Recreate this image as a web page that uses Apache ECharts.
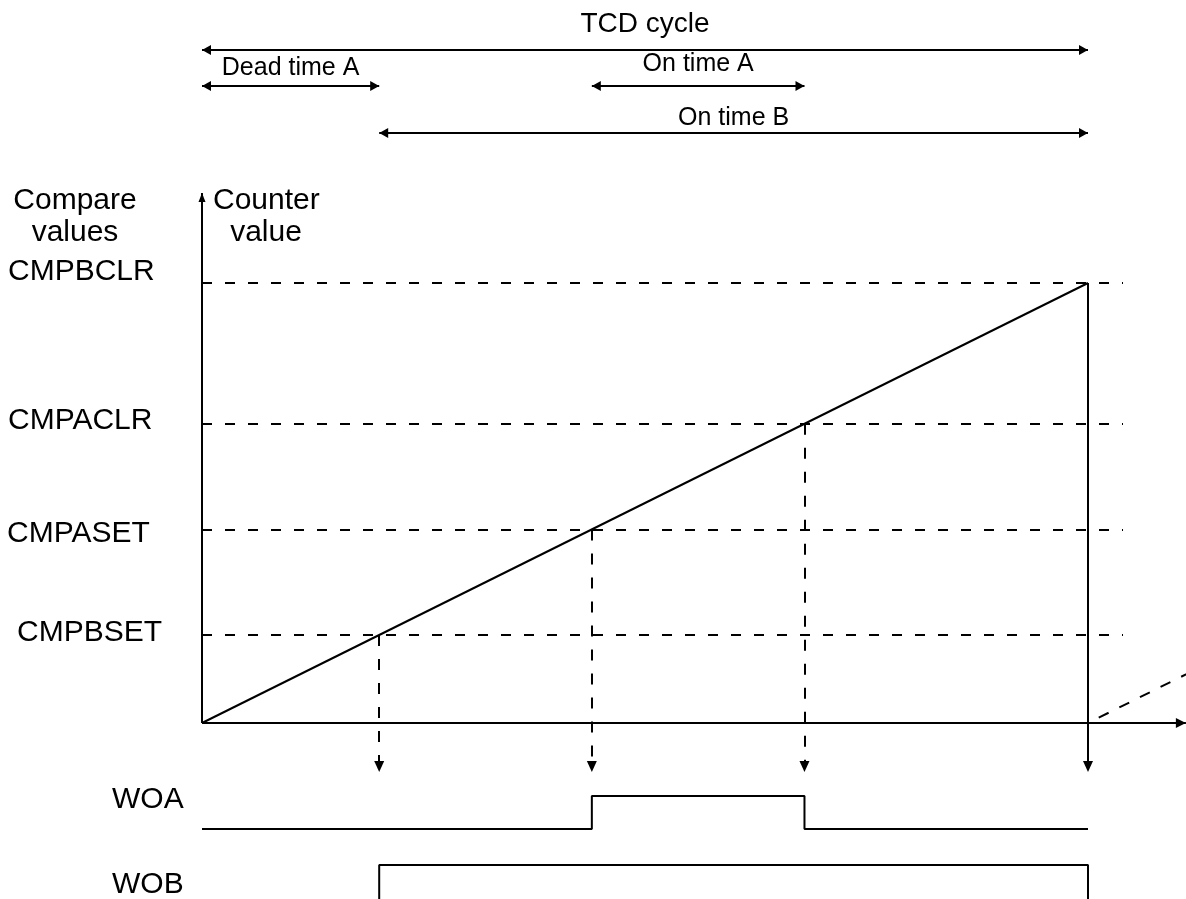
<!DOCTYPE html>
<html>
<head>
<meta charset="utf-8">
<title>TCD cycle</title>
<script src="https://cdn.jsdelivr.net/npm/echarts@6/dist/echarts.min.js"></script>
<style>
  html, body { margin: 0; padding: 0; background: #fff; }
  #chart { width: 1186px; height: 899px; }
</style>
</head>
<body>
<div id="chart"></div>
<script>
// values (time and counter in % of one TCD cycle)
const compareNames = ['CMPBSET', 'CMPASET', 'CMPACLR', 'CMPBCLR'];
const compareValues = [20, 44, 68, 100];

const counterTimes = [0, 100];
const counterValues = [0, 100];
const nextCounterTimes = [100, 112];
const nextCounterValues = [0, 12];

const woaTimes = [0, 44, 68, 100];
const woaLevels = [0, 1, 0, 0];
const wobTimes = [0, 20, 100];
const wobLevels = [0, 1, 0];

const spanNames = ['TCD cycle', 'Dead time A', 'On time A', 'On time B'];
const spanStarts = [0, 0, 44, 20];
const spanEnds = [100, 20, 68, 100];

// layout (pixels)
const W = 1186, H = 899;
const T0_PX = 202, T100_PX = 1088;   // start / end of the cycle
const C0_PX = 723, C100_PX = 283;    // counter 0 / 100
const FONT = "'Liberation Sans', Arial, sans-serif";
const black = '#000';

// axis range so that v0 lands on pixel p0 and v1 on p1
function fitAxis(v0, p0, v1, p1, size, vertical) {
  const k = (v1 - v0) / (p1 - p0);
  const at = p => v0 + (p - p0) * k;
  return vertical ? { min: at(size), max: at(0) } : { min: at(0), max: at(size) };
}
const tAxis = fitAxis(0, T0_PX, 100, T100_PX, W, false);
const cAxis = fitAxis(0, C0_PX, 100, C100_PX, H, true);
const woaAxis = fitAxis(0, 829, 1, 796, H, true);
const wobAxis = fitAxis(0, 902, 1, 865, H, true);
const tAt = px => (px - T0_PX) * 100 / (T100_PX - T0_PX);
const cAt = px => (C0_PX - px) * 100 / (C0_PX - C100_PX);

// time at which the counter reaches a value
function timeOfCount(v) {
  const k = (counterTimes[1] - counterTimes[0]) / (counterValues[1] - counterValues[0]);
  return counterTimes[0] + (v - counterValues[0]) * k;
}

const zip = (a, b) => a.map((x, i) => [x, b[i]]);
// filled arrow head whose tip sits on the end point
const head = (w, h) => ({ symbol: 'triangle', symbolSize: [w, h], symbolOffset: [0, h / 2] });
const noHead = { symbol: 'none', symbolSize: 1, symbolOffset: [0, 0] };

const dropTo = cAt(772);
const guideEnd = tAt(1123);
const eventTimes = compareValues.map(timeOfCount);

// annotation rows, label gap, font size
const spanRows = [50, 86, 86, 133];
const spanGap = [12, 5, 9, 2];
const spanFont = [28, 25, 25, 25];

const series = [
  {
    name: 'Counter',
    type: 'line',
    yAxisIndex: 0,
    data: zip(counterTimes, counterValues),
    showSymbol: false,
    lineStyle: { color: black, width: 2 }
  },
  {
    name: 'Next cycle',
    type: 'line',
    yAxisIndex: 0,
    data: zip(nextCounterTimes, nextCounterValues),
    showSymbol: false,
    lineStyle: { color: black, width: 2, type: [11, 12], dashOffset: 11 }
  },
  {
    name: 'Compare guides',
    type: 'line',
    yAxisIndex: 0,
    data: [],
    markLine: {
      silent: true,
      symbol: 'none',
      label: { show: false },
      lineStyle: { color: black, width: 2, type: [10, 13] },
      data: compareValues.map(v => [
        { coord: [0, v], ...noHead },
        { coord: [guideEnd, v], ...noHead }
      ])
    }
  },
  {
    name: 'Compare events',
    type: 'line',
    yAxisIndex: 0,
    data: [],
    markLine: {
      silent: true,
      symbol: 'none',
      label: { show: false },
      lineStyle: { color: black, width: 2, type: [11, 13] },
      data: compareValues.map((v, i) => [
        {
          coord: [eventTimes[i], v], ...noHead,
          lineStyle: { type: i === compareValues.length - 1 ? 'solid' : [11, 13] }
        },
        { coord: [eventTimes[i], dropTo + 1], ...noHead }
      ])
    }
  },
  {
    // arrow heads at the bottom of the event lines
    name: 'Event heads',
    type: 'scatter',
    yAxisIndex: 0,
    silent: true,
    data: eventTimes.map(t => [t, dropTo]),
    symbol: 'triangle',
    symbolRotate: 180,
    symbolSize: [10, 11],
    symbolOffset: [0, -5.5],
    itemStyle: { color: black, opacity: 1 }
  },
  {
    name: 'Axes',
    type: 'line',
    yAxisIndex: 0,
    data: [],
    markLine: {
      silent: true,
      label: { show: false },
      lineStyle: { color: black, width: 2, type: 'solid' },
      data: [
        [{ coord: [0, 0], ...noHead }, { coord: [0, cAt(193)], ...head(7, 9) }],
        [{ coord: [0, 0], ...noHead }, { coord: [tAt(1185.9), 0], ...head(10, 10) }]
      ]
    }
  },
  {
    name: 'Spans',
    type: 'line',
    yAxisIndex: 1,
    data: [],
    markLine: {
      silent: true,
      lineStyle: { color: black, width: 2, type: 'solid' },
      label: {
        show: true,
        position: 'insideMiddleTop',
        formatter: '{b}',
        color: black,
        fontFamily: FONT
      },
      data: spanNames.map((name, i) => [
        {
          name: name,
          coord: [spanStarts[i], spanRows[i]], ...head(10, 9),
          label: { distance: spanGap[i], fontSize: spanFont[i] }
        },
        { coord: [spanEnds[i], spanRows[i]], ...head(10, 9) }
      ])
    }
  },
  {
    name: 'WOA',
    type: 'line',
    yAxisIndex: 2,
    step: 'end',
    data: zip(woaTimes, woaLevels),
    showSymbol: false,
    lineStyle: { color: black, width: 2 }
  },
  {
    name: 'WOB',
    type: 'line',
    yAxisIndex: 3,
    step: 'end',
    data: zip(wobTimes, wobLevels),
    showSymbol: false,
    lineStyle: { color: black, width: 2 }
  }
];

// left column texts
const leftTexts = [
  { text: 'Compare', x: 75, y: 201, align: 'center' },
  { text: 'values', x: 75, y: 233, align: 'center' },
  { text: 'Counter', x: 213, y: 201, align: 'left' },
  { text: 'value', x: 266, y: 233, align: 'center' },
  { text: compareNames[3], x: 8, y: 272, align: 'left' },
  { text: compareNames[2], x: 8, y: 421, align: 'left' },
  { text: compareNames[1], x: 7, y: 534, align: 'left' },
  { text: compareNames[0], x: 17, y: 633, align: 'left' },
  { text: 'WOA', x: 112, y: 800, align: 'left' },
  { text: 'WOB', x: 112, y: 885, align: 'left' }
];

const option = {
  backgroundColor: '#fff',
  animation: false,
  grid: { left: 0, right: 0, top: 0, bottom: 0, containLabel: false },
  xAxis: { type: 'value', show: false, min: tAxis.min, max: tAxis.max },
  yAxis: [
    { type: 'value', show: false, min: cAxis.min, max: cAxis.max },
    { type: 'value', show: false, min: 0, max: H, inverse: true },
    { type: 'value', show: false, min: woaAxis.min, max: woaAxis.max },
    { type: 'value', show: false, min: wobAxis.min, max: wobAxis.max }
  ],
  series: series,
  graphic: leftTexts.map(t => ({
    type: 'text',
    x: t.x,
    y: t.y,
    silent: true,
    style: {
      text: t.text,
      fill: black,
      fontSize: 30,
      fontFamily: FONT,
      align: t.align,
      verticalAlign: 'middle'
    }
  }))
};

const chart = echarts.init(document.getElementById('chart'));
chart.setOption(option);
window.addEventListener('resize', () => chart.resize());
</script>
</body>
</html>
